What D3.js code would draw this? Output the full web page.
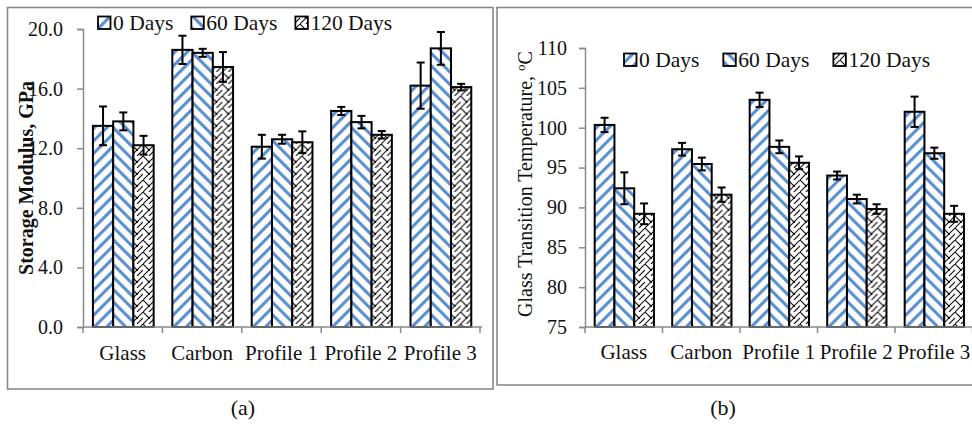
<!DOCTYPE html>
<html>
<head>
<meta charset="utf-8">
<script src="https://cdn.jsdelivr.net/npm/d3@7/dist/d3.min.js"></script>
<style>
  html, body { margin: 0; padding: 0; background: #fff; }
  svg { display: block; }
</style>
</head>
<body>
<svg id="fig" width="972" height="424"></svg>
<script>
// Conditioning time series and fibre types
const categories = ["Glass", "Carbon", "Profile 1", "Profile 2", "Profile 3"];
const seriesNames = ["0 Days", "60 Days", "120 Days"];

// Storage modulus (GPa) and standard deviations
const modulus0   = [13.5, 18.6, 12.1, 14.5, 16.2];
const modulus60  = [13.8, 18.4, 12.6, 13.75, 18.7];
const modulus120 = [12.2, 17.45, 12.4, 12.9, 16.1];
const modulusErr0   = [1.3, 0.95, 0.8, 0.27, 1.55];
const modulusErr60  = [0.6, 0.27, 0.3, 0.42, 1.1];
const modulusErr120 = [0.63, 1.0, 0.73, 0.25, 0.22];
const modulusTicks = [0, 4, 8, 12, 16, 20];

// Glass transition temperature (°C) and standard deviations
const tg0   = [100.35, 97.3, 103.5, 94.0, 102.0];
const tg60  = [92.4, 95.45, 97.6, 91.05, 96.8];
const tg120 = [89.2, 91.6, 95.6, 89.8, 89.2];
const tgErr0   = [0.9, 0.8, 0.9, 0.5, 1.9];
const tgErr60  = [2.0, 0.8, 0.8, 0.55, 0.7];
const tgErr120 = [1.3, 0.9, 0.8, 0.6, 1.0];
const tgTicks = [75, 80, 85, 90, 95, 100, 105, 110];

const SERIF = "'Liberation Serif', 'Times New Roman', serif";
const svg = d3.select("#fig");
const defs = svg.append("defs");
const BLUE = "#5a8fd2";
const AXIS = "#8a8a8a";

// Diagonal stripe fills: "/" for 0 days, "\" for 60 days
function stripePattern(id, angle) {
  const w = 8.8;
  const p = defs.append("pattern")
    .attr("id", id)
    .attr("patternUnits", "userSpaceOnUse")
    .attr("width", w).attr("height", w)
    .attr("patternTransform", `rotate(${angle})`);
  p.append("rect").attr("width", w).attr("height", w).attr("fill", "#fff");
  p.append("rect").attr("x", 0).attr("width", 3.1).attr("height", w).attr("fill", BLUE);
}
stripePattern("fill0", 45);
stripePattern("fill60", -45);

// Shingle-like black line fill for 120 days
(function () {
  const s = 12;
  const p = defs.append("pattern")
    .attr("id", "fill120")
    .attr("patternUnits", "userSpaceOnUse")
    .attr("width", s).attr("height", s);
  p.append("rect").attr("width", s).attr("height", s).attr("fill", "#fff");
  p.append("path")
    .attr("d", `M0,${s} L${s},0 M0,0 L${s / 2},${s / 2} M${s / 2},${s} L${s},${s / 2}`)
    .attr("stroke", "#111").attr("stroke-width", 1.1).attr("fill", "none");
  p.append("circle").attr("cx", s / 2).attr("cy", s / 2).attr("r", 1.1).attr("fill", "#000");
})();
const fills = ["url(#fill0)", "url(#fill60)", "url(#fill120)"];

function txt(sel) {
  return sel.style("font-family", SERIF).style("fill", "#111");
}

function drawPanel(cfg) {
  const g = svg.append("g");

  // outer frame
  g.append("rect")
    .attr("x", cfg.frame[0]).attr("y", cfg.frame[1])
    .attr("width", cfg.frame[2] - cfg.frame[0]).attr("height", cfg.frame[3] - cfg.frame[1])
    .attr("fill", "none").attr("stroke", AXIS).attr("stroke-width", 1.6);

  const y = d3.scaleLinear().domain(cfg.domain).range([cfg.bottom, cfg.top]);
  const x0 = d3.scaleBand().domain(categories).range([cfg.left, cfg.right]).padding(0);
  const bw = x0.bandwidth();
  const x1 = d3.scaleBand().domain(seriesNames).range([bw * 0.125, bw * 0.89]).padding(0);

  // y axis
  const yAxis = d3.axisLeft(y).tickValues(cfg.ticks).tickSize(6).tickPadding(cfg.tickPad)
    .tickFormat(cfg.fmt);
  const ya = g.append("g").attr("transform", `translate(${cfg.left},0)`).call(yAxis);
  ya.select(".domain").attr("stroke", AXIS).attr("stroke-width", 1.5);
  ya.selectAll(".tick line").attr("stroke", AXIS).attr("stroke-width", 1.5);
  txt(ya.selectAll(".tick text")).style("font-size", "20px");

  // bars
  const rows = categories.map((c, i) => ({
    cat: c,
    vals: cfg.values.map((s, k) => ({ k, name: seriesNames[k], v: s[i], e: cfg.errs[k][i] }))
  }));
  const grp = g.selectAll(".grp").data(rows).join("g")
    .attr("transform", d => `translate(${x0(d.cat)},0)`);
  grp.selectAll("rect").data(d => d.vals).join("rect")
    .attr("x", d => x1(d.name))
    .attr("y", d => y(d.v))
    .attr("width", x1.bandwidth())
    .attr("height", d => y(cfg.domain[0]) - y(d.v))
    .attr("fill", d => fills[d.k])
    .attr("stroke", "#000").attr("stroke-width", 2);

  // error bars
  const eb = grp.selectAll(".eb").data(d => d.vals).join("g").attr("class", "eb")
    .attr("transform", d => `translate(${x1(d.name) + x1.bandwidth() / 2},0)`);
  eb.append("line").attr("y1", d => y(d.v - d.e)).attr("y2", d => y(d.v + d.e))
    .attr("stroke", "#000").attr("stroke-width", 2);
  eb.append("line").attr("x1", -4).attr("x2", 4).attr("y1", d => y(d.v + d.e)).attr("y2", d => y(d.v + d.e))
    .attr("stroke", "#000").attr("stroke-width", 2);
  eb.append("line").attr("x1", -4).attr("x2", 4).attr("y1", d => y(d.v - d.e)).attr("y2", d => y(d.v - d.e))
    .attr("stroke", "#000").attr("stroke-width", 2);

  // x axis with ticks between categories
  const xa = g.append("g").attr("transform", `translate(0,${cfg.bottom})`);
  xa.append("line").attr("x1", cfg.left).attr("x2", cfg.right + 2)
    .attr("stroke", AXIS).attr("stroke-width", 1.5);
  const bounds = categories.map(c => x0(c)).concat([cfg.right]);
  xa.selectAll(".xt").data(bounds).join("line")
    .attr("x1", d => d).attr("x2", d => d).attr("y1", 0).attr("y2", 6)
    .attr("stroke", AXIS).attr("stroke-width", 1.5);
  txt(xa.selectAll(".xl").data(categories).join("text"))
    .attr("x", d => x0(d) + bw / 2).attr("y", cfg.catY - cfg.bottom)
    .attr("text-anchor", "middle").style("font-size", "21px")
    .text(d => d);

  // legend
  let lx = cfg.legendX;
  seriesNames.forEach((name, k) => {
    g.append("rect").attr("x", lx).attr("y", cfg.legendY - 6.5)
      .attr("width", 12.5).attr("height", 12.5)
      .attr("fill", fills[k]).attr("stroke", "#000").attr("stroke-width", 1.8);
    const t = txt(g.append("text")).attr("x", lx + 15).attr("y", cfg.legendY + 7)
      .style("font-size", "21.5px").text(name);
    lx += 15 + t.node().getComputedTextLength() + cfg.legendGap;
  });

  // y title
  const tt = txt(g.append("text"))
    .attr("transform", `translate(${cfg.titleX},${cfg.titleY}) rotate(-90)`)
    .attr("text-anchor", "middle").style("font-size", cfg.titleSize + "px")
    .style("font-weight", cfg.titleWeight);
  cfg.title(tt);

  // caption
  txt(g.append("text")).attr("x", cfg.capX).attr("y", 415).attr("text-anchor", "middle")
    .style("font-size", "22px").text(cfg.caption);
}

drawPanel({
  frame: [7.5, 7.5, 493, 389],
  left: 83, right: 480, top: 29, bottom: 327,
  domain: [0, 20], ticks: modulusTicks, fmt: d3.format(".1f"), tickPad: 14,
  values: [modulus0, modulus60, modulus120],
  errs: [modulusErr0, modulusErr60, modulusErr120],
  catY: 360,
  legendX: 98, legendY: 23, legendGap: 18,
  titleX: 33, titleY: 178, titleSize: 20, titleWeight: "bold",
  title: t => t.text("Storage Modulus,  GPa"),
  capX: 243, caption: "(a)"
});

drawPanel({
  frame: [497, 7.5, 990, 385],
  left: 585, right: 972.5, top: 48, bottom: 327,
  domain: [75, 110], ticks: tgTicks, fmt: d3.format("d"), tickPad: 12,
  values: [tg0, tg60, tg120],
  errs: [tgErr0, tgErr60, tgErr120],
  catY: 359,
  legendX: 624, legendY: 60, legendGap: 24,
  titleX: 532, titleY: 184, titleSize: 20, titleWeight: "normal",
  title: t => {
    t.append("tspan").text("Glass Transition Temperature, ");
    t.append("tspan").attr("baseline-shift", "super").style("font-size", "13px").text("o");
    t.append("tspan").text("C");
  },
  capX: 723, caption: "(b)"
});
</script>
</body>
</html>
